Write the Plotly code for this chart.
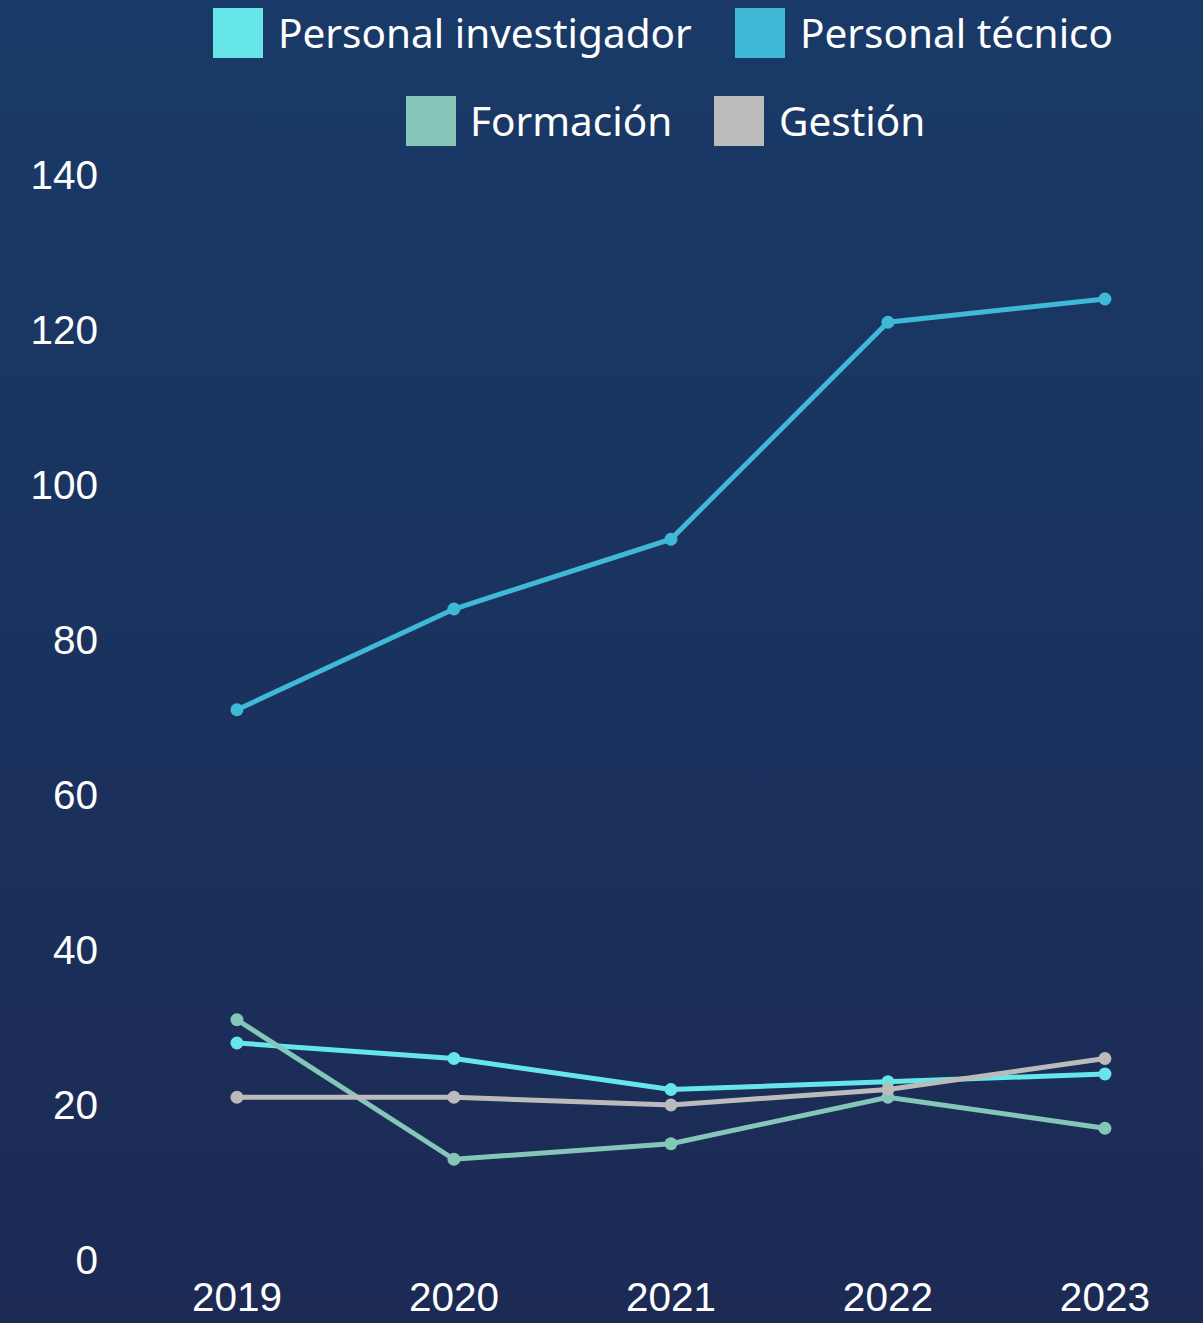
import base64
import plotly.graph_objects as go

anios = ["2019", "2020", "2021", "2022", "2023"]
investigador = [28, 26, 22, 23, 24]
tecnico = [71, 84, 93, 121, 124]
formacion = [31, 13, 15, 21, 17]
gestion = [21, 21, 20, 22, 26]

series = [
    ("Personal investigador", investigador, "#67e6e9"),
    ("Personal técnico", tecnico, "#40b8d8"),
    ("Formación", formacion, "#84c7b9"),
    ("Gestión", gestion, "#bbbbbb"),
]

W, H = 1203, 1323
L, R, T, B = 110, 0, 175, 63
pw, ph = W - L - R, H - T - B


def px(x):
    return (x - L) / pw


def py(y):
    return 1 - (y - T) / ph


fig = go.Figure()
for nombre, valores, color in series:
    fig.add_trace(go.Scatter(
        x=anios, y=valores, name=nombre, mode="lines+markers",
        line=dict(color=color, width=5),
        marker=dict(color=color, size=13),
        showlegend=False,
    ))

# fondo degradado
svg = ('<svg xmlns="http://www.w3.org/2000/svg" width="100" height="100" preserveAspectRatio="none">'
       '<defs><linearGradient id="g" x1="0" y1="0" x2="0" y2="1">'
       '<stop offset="0" stop-color="#193a68"/><stop offset="1" stop-color="#1c2a54"/>'
       '</linearGradient></defs><rect width="100" height="100" fill="url(#g)"/></svg>')
fig.add_layout_image(
    source="data:image/svg+xml;base64," + base64.b64encode(svg.encode()).decode(),
    xref="paper", yref="paper", x=px(0), y=py(0), sizex=W / pw, sizey=H / ph,
    xanchor="left", yanchor="top", sizing="stretch", layer="below",
)

# leyenda manual
leyenda = [
    (213, 276, 32, 0),
    (735, 798, 32, 1),
    (406, 468, 120, 2),
    (714, 777, 120, 3),
]
for caja_x, texto_x, cy, i in leyenda:
    nombre, _, color = series[i]
    fig.add_shape(type="rect", xref="paper", yref="paper",
                  x0=px(caja_x), x1=px(caja_x + 50), y0=py(cy - 24), y1=py(cy + 26),
                  fillcolor=color, line=dict(width=0))
    fig.add_annotation(text=nombre, xref="paper", yref="paper", x=px(texto_x), y=py(cy),
                       xanchor="left", yanchor="middle", showarrow=False,
                       font=dict(family="Noto Sans", size=40.5, color="white"))

fig.update_layout(
    width=W, height=H,
    margin=dict(l=L, r=R, t=T, b=B),
    paper_bgcolor="#1a325e", plot_bgcolor="rgba(0,0,0,0)",
    font=dict(family="Liberation Sans, Arial", size=40.5, color="white"),
)
fig.update_xaxes(type="category", range=[-0.585, 4.452], showgrid=False,
                 zeroline=False, showline=False, ticks="", ticklabelstandoff=9)
fig.update_yaxes(range=[0, 140], dtick=20, showgrid=False, zeroline=False,
                 showline=False, ticks="", ticklabelstandoff=11)

fig.write_html("out.html", config={"displayModeBar": False},
               post_script="document.body.style.margin = '0';")
